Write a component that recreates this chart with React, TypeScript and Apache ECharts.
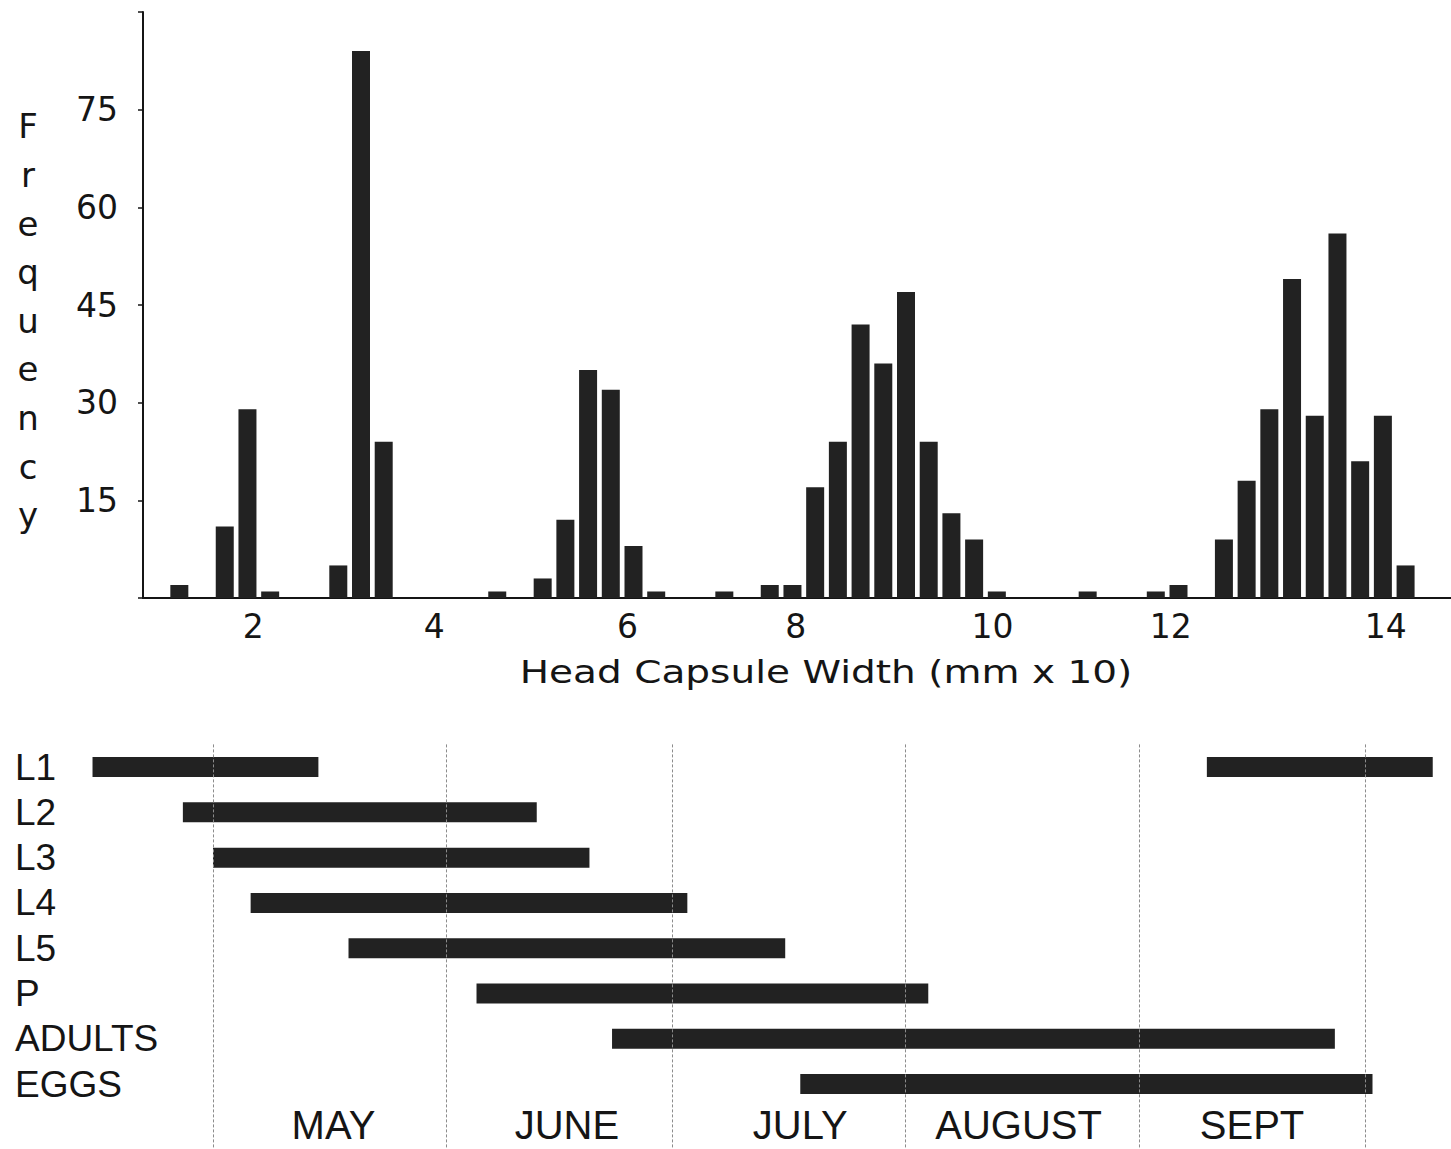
import React, { useEffect, useRef } from "react";
import * as echarts from "echarts";

// ---------- Top chart: head capsule width histogram ----------
// One value per measurement class (slot), left to right.
const frequency = [
  2, 0, 11, 29, 1, 0, 0, 5, 84, 24,
  0, 0, 0, 0, 1, 0, 3, 12, 35, 32,
  8, 1, 0, 0, 1, 0, 2, 2, 17, 24,
  42, 36, 47, 24, 13, 9, 1, 0, 0, 0,
  1, 0, 0, 1, 2, 0, 9, 18, 29, 49,
  28, 56, 21, 28, 5,
];
// Where the printed tick labels sit, in slot units, and their text.
const xTickSlots = [3.26, 11.23, 19.74, 27.14, 35.81, 43.66, 53.13];
const xTickLabels = ["2", "4", "6", "8", "10", "12", "14"];
const yMax = 90;
const yStep = 15;
const yLabelled = [15, 30, 45, 60, 75];

// ---------- Bottom chart: seasonal occurrence ----------
const stages = ["L1", "L2", "L3", "L4", "L5", "P", "ADULTS", "EGGS"];
const periodStage = ["L1", "L1", "L2", "L3", "L4", "L5", "P", "ADULTS", "EGGS"];
const periodStart = ["04-15", "09-10", "04-27", "05-01", "05-06", "05-19", "06-05", "06-23", "07-18"];
const periodEnd = ["05-15", "10-10", "06-13", "06-20", "07-03", "07-16", "08-04", "09-27", "10-02"];
const monthStarts = ["05-01", "06-01", "07-01", "08-01", "09-01", "10-01"];
const monthNames = ["MAY", "JUNE", "JULY", "AUGUST", "SEPT"];
const monthLabelDates = ["05-17", "06-17", "07-18", "08-16", "09-16"];
const seasonStart = "04-11";
const seasonEnd = "10-12";

const YEAR = 2001;
const ts = (md: string) => {
  const [m, d] = md.split("-").map(Number);
  return Date.UTC(YEAR, m - 1, d);
};

const TOP_FONT = "DejaVu Sans";
const BOTTOM_FONT = "Liberation Sans";
const INK = "#151515";
const BAR = "#222222";

export default function App() {
  const ref = useRef<HTMLDivElement>(null);

  useEffect(() => {
    if (!ref.current) return;
    const chart = echarts.init(ref.current, null, { renderer: "svg" });

    const monthLabelTs = monthLabelDates.map(ts);
    const stageRows = stages.map((_, i) => i);
    const nearestIndex = (arr: number[], v: number) => {
      let best = -1;
      let bd = Infinity;
      arr.forEach((a, i) => {
        const d = Math.abs(a - v);
        if (d < bd) {
          bd = d;
          best = i;
        }
      });
      return best;
    };

    const option: any = {
      animation: false,
      backgroundColor: "#ffffff",
      grid: [
        { left: 143, right: 0, top: 12, bottom: 551 },
        { left: 62.4, right: 3.2, top: 744.4, bottom: 1.5 },
      ],
      xAxis: [
        {
          gridIndex: 0,
          type: "value",
          min: -1.6,
          max: 56,
          axisLine: { show: true, onZero: false, lineStyle: { color: INK, width: 2 } },
          axisTick: { show: false },
          splitLine: { show: false },
          axisLabel: {
            customValues: xTickSlots,
            formatter: (v: number) => xTickLabels[nearestIndex(xTickSlots, v)],
            fontFamily: TOP_FONT,
            fontSize: 33,
            color: INK,
            margin: 12,
          },
        },
        {
          // day-based axis (values are UTC timestamps)
          gridIndex: 1,
          type: "value",
          min: ts(seasonStart),
          max: ts(seasonEnd),
          axisLine: { show: false, onZero: false },
          axisTick: { show: false },
          splitLine: { show: false },
          axisLabel: {
            inside: true,
            customValues: monthLabelTs,
            formatter: (v: number) => monthNames[nearestIndex(monthLabelTs, v)],
            fontFamily: BOTTOM_FONT,
            fontSize: 40,
            color: INK,
            verticalAlign: "middle",
            margin: 22.5,
          },
        },
      ],
      yAxis: [
        {
          gridIndex: 0,
          type: "value",
          min: 0,
          max: yMax,
          interval: yStep,
          axisLine: { show: true, onZero: false, lineStyle: { color: INK, width: 2 } },
          axisTick: { show: true, length: 5, lineStyle: { color: INK, width: 1.5 } },
          splitLine: { show: false },
          axisLabel: {
            formatter: (v: number) => (yLabelled.indexOf(v) >= 0 ? String(v) : ""),
            fontFamily: TOP_FONT,
            fontSize: 33,
            color: INK,
            margin: 25,
          },
        },
        {
          // stage rows: 0 = L1 at the top
          gridIndex: 1,
          type: "value",
          inverse: true,
          min: -0.5,
          max: 8.4,
          axisLine: { show: false, onZero: false },
          axisTick: { show: false },
          splitLine: { show: false },
          axisLabel: {
            customValues: stageRows,
            formatter: (v: number) => stages[Math.round(v)] ?? "",
            align: "left",
            margin: 47.4,
            fontFamily: BOTTOM_FONT,
            fontSize: 37,
            color: INK,
          },
        },
      ],
      series: [
        {
          type: "bar",
          xAxisIndex: 0,
          yAxisIndex: 0,
          data: frequency.map((v, i) => [i, v]),
          barWidth: 18,
          itemStyle: { color: BAR },
        },
        {
          type: "custom",
          xAxisIndex: 1,
          yAxisIndex: 1,
          encode: { x: [1, 2], y: 0 },
          data: periodStage.map((s, i) => [stages.indexOf(s), ts(periodStart[i]), ts(periodEnd[i])]),
          renderItem: (params: any, api: any) => {
            const row = api.value(0);
            const a = api.coord([api.value(1), row]);
            const b = api.coord([api.value(2), row]);
            const h = 20;
            return {
              type: "rect",
              shape: { x: a[0], y: a[1] - h / 2, width: b[0] - a[0], height: h },
              style: { fill: BAR },
            };
          },
          markLine: {
            silent: true,
            symbol: ["none", "none"],
            label: { show: false },
            lineStyle: { color: "#8c8c8c", width: 1, type: [3, 2] },
            data: monthStarts.map((m) => ({ xAxis: ts(m) })),
          },
        },
      ],
      graphic: [
        {
          type: "text",
          x: 28,
          y: 102,
          style: {
            text: "F\nr\ne\nq\nu\ne\nn\nc\ny",
            fontFamily: TOP_FONT,
            fontSize: 34,
            lineHeight: 48.6,
            fill: INK,
            textAlign: "center",
            textVerticalAlign: "top",
          },
        },
        {
          type: "text",
          x: 826,
          y: 672,
          scaleX: 1.22,
          style: {
            text: "Head Capsule Width (mm x 10)",
            fontFamily: TOP_FONT,
            fontSize: 32,
            fill: INK,
            textAlign: "center",
            textVerticalAlign: "middle",
          },
        },
      ],
    };

    chart.setOption(option);
    return () => chart.dispose();
  }, []);

  return (
    <div
      ref={ref}
      style={{ position: "fixed", left: 0, top: 0, width: 1451, height: 1149, background: "#fff" }}
    />
  );
}
